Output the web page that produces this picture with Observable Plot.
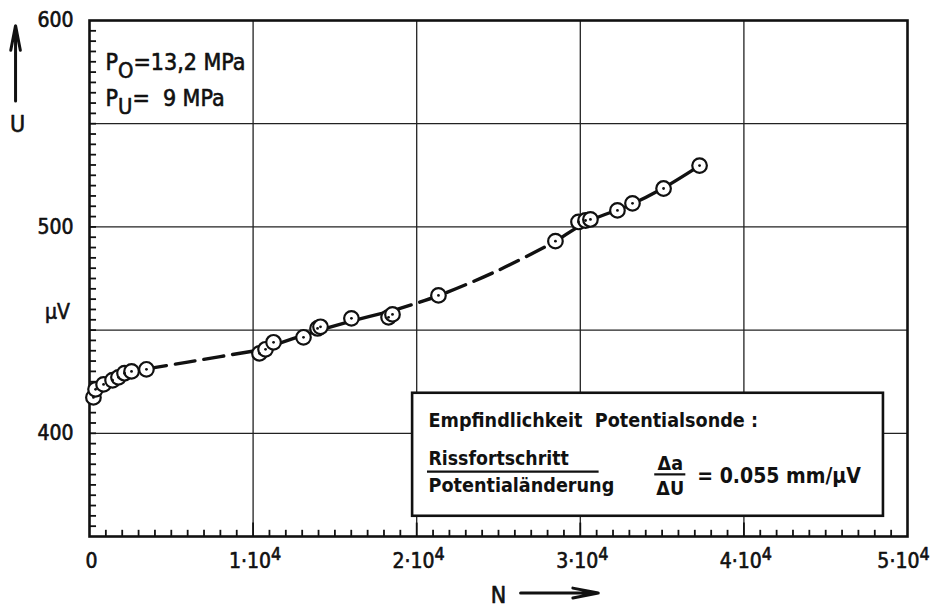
<!DOCTYPE html>
<html>
<head>
<meta charset="utf-8">
<script src="https://cdn.jsdelivr.net/npm/d3@7"></script>
<script src="https://cdn.jsdelivr.net/npm/@observablehq/plot@0.6"></script>
<style>
  html, body { margin: 0; padding: 0; background: #fff; }
  svg { display: block; }
</style>
</head>
<body>
<div id="chart"></div>
<script>
// ---- data ----
const cycles  = [240, 370, 860, 1410, 1770, 2140, 2570, 3480,
                 10390, 10760, 11250, 13080, 13940, 14120, 16010, 18280, 18520, 21330,
                 28480, 29890, 30320, 30620, 32270, 33190, 35090, 37290];
const voltage = [417.4, 421.3, 423.7, 425.7, 427.1, 429.1, 430.0, 431.0,
                 438.7, 440.7, 444.1, 446.5, 450.8, 451.6, 455.7, 456.2, 457.6, 466.8,
                 493.1, 502.4, 503.1, 503.6, 508.0, 511.4, 518.6, 529.7];

// fitted curve through the measurements (solid near data, dashed between)
const fitCycles  = [200, 1000, 2000, 3500, 6000, 10500, 13000, 16000, 18500, 21300, 25000, 28500, 30500, 33000, 35000, 37300];
const fitVoltage = [419.5, 423.5, 427.5, 431.2, 434.5, 440.5, 447.3, 454.3, 459.3, 466.6, 479.0, 493.0, 502.7, 510.5, 518.5, 529.7];
const fitBreaks  = [3500, 10500, 18500, 28500];

const xTickValues = [0, 10000, 20000, 30000, 40000, 50000];
const xTickLabels = ["0", "1·10^{4}", "2·10^{4}", "3·10^{4}", "4·10^{4}", "5·10^{4}"];
const yTickValues = [400, 500, 600];
const yTickLabels = ["400", "500", "600"];
const xGrid = [10000, 20000, 30000, 40000];
const yGrid = [400, 450, 500, 550];
const xMinor = d3.range(1000, 50000, 1000).filter(v => v % 10000 !== 0);
const xMajor = [10000, 20000, 30000, 40000];
const yMinor = d3.range(355, 600, 5);

// ---- build ----
const points = cycles.map((n, i) => ({n, u: voltage[i]}));
const fit = fitCycles.map((n, i) => ({n, u: fitVoltage[i]}));
const bounds = [fitCycles[0], ...fitBreaks, fitCycles[fitCycles.length - 1]];
const segments = d3.pairs(bounds).map(([a, b], i) => ({
  dashed: i % 2 === 1,
  pts: fit.filter(d => d.n >= a && d.n <= b)
}));
const xLabels = xTickValues.map((v, i) => ({v, t: xTickLabels[i]}));

const FONT = "'DejaVu Sans Condensed', 'DejaVu Sans', sans-serif";
const X0 = 0, X1 = 50000, Y0 = 350, Y1 = 600;
const INK = "#111";
const heavy = {fill: INK, stroke: INK, strokeWidth: 0.6, fontFamily: FONT};

// annotation layout (data coordinates)
const box = {x1: 19750, x2: 48530, y1: 359.8, y2: 419.4};

const marks = [
  // grid
  Plot.ruleX(xGrid, {x: d => d, y1: Y0, y2: Y1, stroke: "#222", strokeWidth: 1.3}),
  Plot.ruleY(yGrid, {y: d => d, x1: X0, x2: X1, stroke: "#222", strokeWidth: 1.3}),
  // legend box (white, hides grid)
  Plot.rect([box], {x1: "x1", x2: "x2", y1: "y1", y2: "y2", fill: "white", stroke: INK, strokeWidth: 2.6}),
  // minor/major ticks pointing inward
  Plot.ruleX(xMinor, {x: d => d, y1: Y0, y2: Y0 + 3.0, stroke: INK, strokeWidth: 1.8}),
  Plot.ruleX(xMajor, {x: d => d, y1: Y0, y2: Y0 + 6.5, stroke: INK, strokeWidth: 1.8}),
  Plot.ruleY(yMinor, {y: d => d, x1: X0, x2: X0 + 430, stroke: INK, strokeWidth: 1.8}),
  Plot.frame({stroke: INK, strokeWidth: 2.6}),
  // fitted curve segments
  ...segments.map(s => Plot.line(s.pts, {
    x: "n", y: "u", curve: "catmull-rom", stroke: INK, strokeWidth: 3.4,
    strokeDasharray: s.dashed ? "20,9" : null
  })),
  // measurement points
  Plot.dot(points, {x: "n", y: "u", r: 7.3, fill: "white", stroke: INK, strokeWidth: 2.2}),
  Plot.dot(points, {x: "n", y: "u", r: 1.4, fill: INK}),
  // tick labels
  Plot.text(xLabels.slice(0, -1), {x: "v", y: Y0, text: "t", dy: 25, dx: 2, fontSize: 21, ...heavy}),
  Plot.text(xLabels.slice(-1), {x: "v", y: Y0, text: "t", dy: 25, dx: -4, fontSize: 21, ...heavy}),
  Plot.text(yTickValues, {x: X0, y: d => d, text: (d, i) => yTickLabels[i], dx: -16, textAnchor: "end",
    fontSize: 21, ...heavy}),
  // axis titles
  Plot.text(["µV"], {x: -1956, y: 458.5, text: d => d, fontSize: 21, ...heavy}),
  Plot.text(["U"], {x: -4400, y: 549.5, text: d => d, fontSize: 23, ...heavy}),
  Plot.text(["N"], {x: 25000, y: 321.5, text: d => d, fontSize: 23, ...heavy}),
  Plot.arrow([{x1: 26350, y1: 322.6, x2: 31100, y2: 322.6}], {x1: "x1", y1: "y1", x2: "x2", y2: "y2",
    stroke: INK, strokeWidth: 3, headLength: 16, headAngle: 22}),
  Plot.arrow([{x1: -4520, y1: 561, x2: -4520, y2: 597.5}], {x1: "x1", y1: "y1", x2: "x2", y2: "y2",
    stroke: INK, strokeWidth: 3, headLength: 18, headAngle: 22}),
  // load annotations
  Plot.text(["P_{O}=13,2 MPa", "P_{U}=\u00a0\u00a09 MPa"], {x: 980, y: (d, i) => [579.7, 562.3][i], text: d => d,
    textAnchor: "start", fontSize: 23, ...heavy}),
  // box contents
  Plot.text(["Empfindlichkeit  Potentialsonde :"], {x: 20720, y: 406.3, text: d => d, textAnchor: "start",
    fontSize: 19.6, fontWeight: "bold", fill: INK, fontFamily: FONT}),
  Plot.text(["Rissfortschritt"], {x: 20720, y: 387.6, text: d => d, textAnchor: "start",
    fontSize: 19.3, fontWeight: "bold", fill: INK, fontFamily: FONT}),
  Plot.text(["Potentialänderung"], {x: 20720, y: 374.5, text: d => d, textAnchor: "start",
    fontSize: 19.6, fontWeight: "bold", fill: INK, fontFamily: FONT}),
  Plot.ruleY([381.4], {y: d => d, x1: 20660, x2: 31150, stroke: INK, strokeWidth: 2.2}),
  Plot.text(["Δa", "ΔU"], {x: 35500, y: (d, i) => [385.2, 373.2][i], text: d => d,
    fontSize: 19.5, fontWeight: "bold", fill: INK, fontFamily: FONT}),
  Plot.ruleY([380.1], {y: d => d, x1: 34550, x2: 36450, stroke: INK, strokeWidth: 2.2}),
  Plot.text(["= 0.055 mm/µV"], {x: 37150, y: 379.0, text: d => d, textAnchor: "start",
    fontSize: 21, fontWeight: "bold", fill: INK, fontFamily: FONT})
];

const chart = Plot.plot({
  width: 932, height: 607,
  marginLeft: 89, marginRight: 25, marginTop: 20, marginBottom: 71,
  x: {domain: [X0, X1], axis: null},
  y: {domain: [Y0, Y1], axis: null},
  style: {background: "white", fontFamily: FONT, overflow: "visible"},
  marks
});

// sub/superscript markup: _{..} and ^{..}
d3.select(chart).selectAll("text").each(function () {
  const t = this.textContent;
  if (!/[_^]\{/.test(t)) return;
  const parts = [];
  const re = /([_^])\{([^}]*)\}/g;
  let last = 0, m;
  while ((m = re.exec(t))) {
    if (m.index > last) parts.push({s: t.slice(last, m.index), k: ""});
    parts.push({s: m[2], k: m[1]});
    last = re.lastIndex;
  }
  if (last < t.length) parts.push({s: t.slice(last), k: ""});
  const el = d3.select(this);
  el.text(null);
  let cur = 0;
  for (const p of parts) {
    const target = p.k === "_" ? 8 : p.k === "^" ? -8 : 0;
    const ts = el.append("tspan").text(p.s);
    if (target !== cur) ts.attr("dy", target - cur);
    if (p.k === "^") ts.attr("font-size", "85%");
    if (p.k === "_") ts.attr("font-size", "95%");
    cur = target;
  }
});

document.getElementById("chart").appendChild(chart);
</script>
</body>
</html>
